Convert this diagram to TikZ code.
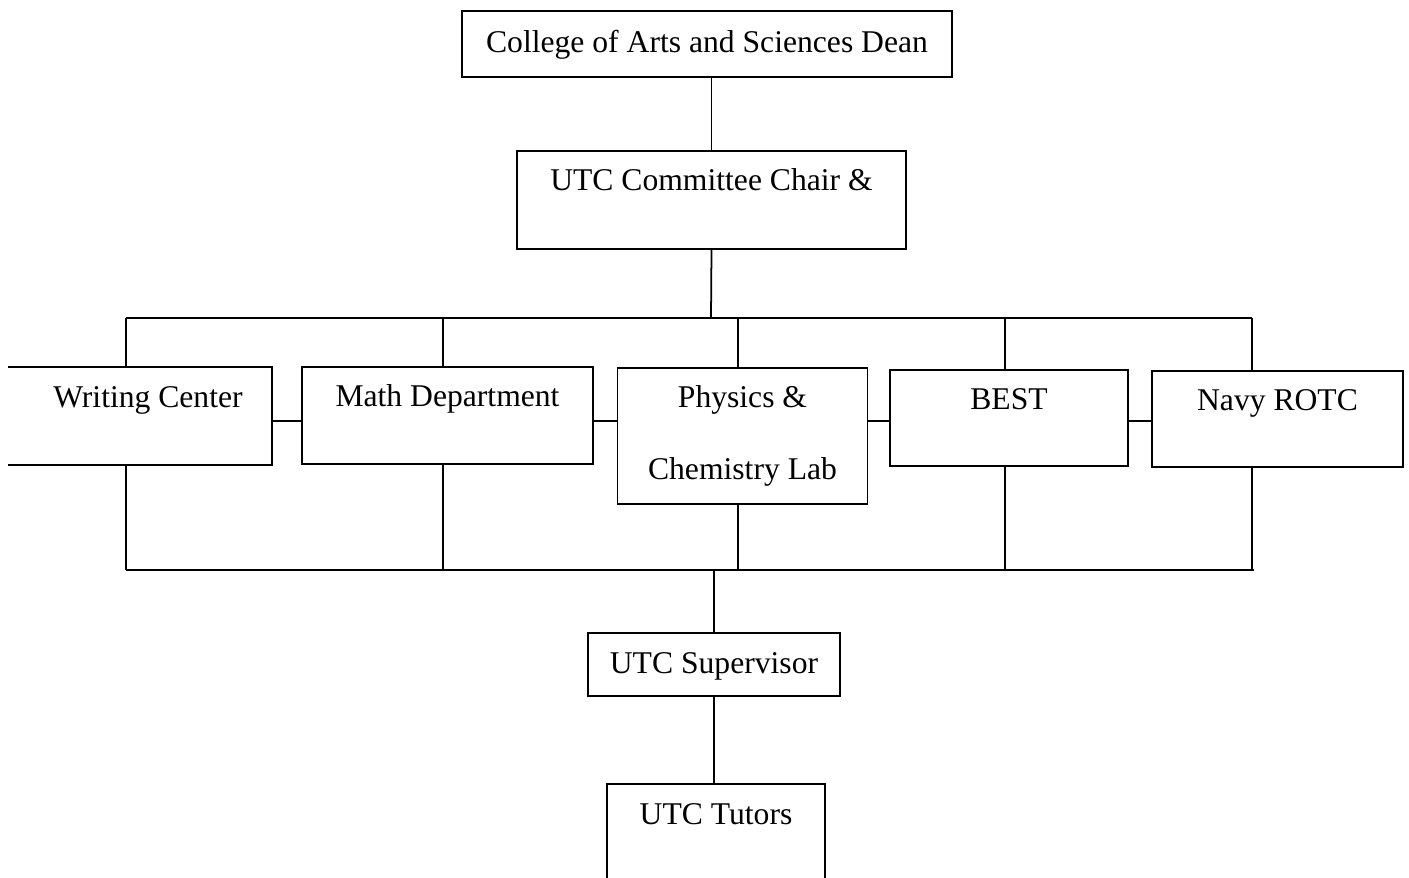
\documentclass[tikz,border=0pt]{standalone}
\usepackage{fontspec}
\setmainfont{Liberation Serif}
\usetikzlibrary{positioning}

\begin{document}
\begin{tikzpicture}[x=0.2mm, y=-0.2mm,
		office/.style={draw, line width=1pt, inner sep=0pt, anchor=north,
			font=\fontsize{18}{41}\selectfont, align=center, text height=8mm},
		openoffice/.style={office, draw=none},
		link/.style={line width=1pt}]
	\useasboundingbox (0,0) rectangle (1409,877);
	\node[office, minimum width=98mm, text height=8.4mm, text depth=4.8mm] (dean) at (707,10) {College of Arts and Sciences Dean};
	\node[office, minimum width=77.8mm, text depth=11.6mm] (chair) at (711.5,150) {UTC Committee Chair \&};
	% the five units
	\node[openoffice, minimum width=49.2mm, text depth=11.2mm] (writing) at (148,367) {Writing Center};
	\node[office, minimum width=58.2mm, text depth=11.4mm] (math) at (447.5,366) {Math Department};
	\node[office, minimum width=50mm, text height=22.4mm, text depth=4.8mm] (phys) at (742.5,367) {Physics \&\\Chemistry Lab};
	\node[office, minimum width=47.6mm, text depth=11.2mm] (best) at (1009,369) {BEST};
	\node[office, minimum width=50.2mm, text depth=11.2mm] (navy) at (1277.5,370) {Navy ROTC};
	\node[office, minimum width=50.4mm, text height=8.2mm, text depth=4.4mm] (super) at (714,632) {UTC Supervisor};
	\node[openoffice, minimum width=43.2mm, text depth=12mm] (tutors) at (716,784) {UTC Tutors};
	\draw[link] ([xshift=-3.2mm]writing.north west) -- (writing.north east) -- (writing.south east) -- ([xshift=-3.2mm]writing.south west);
	\draw[link] (tutors.south west) -- (tutors.north west) -- (tutors.north east) -- (tutors.south east);
	% connectors
	\draw[link] (chair.north |- dean.south) -- (chair.north);
	\coordinate (bustop) at (711,318);
	\coordinate (busbottom) at (714,570);
	\draw[link] (chair.south) -- (bustop);
	\draw[link] (126,318) -- (1252,318);
	\draw[link] (126,570) -- (1254,570);
	\foreach \n/\x in {writing/126, math/443, phys/738, best/1005, navy/1252} {
		\draw[link] (\x,318) -- (\x,318 |- \n.north);
		\draw[link] (\x,570) -- (\x,570 |- \n.south);
	}
	\foreach \a/\b in {writing/math, math/phys, phys/best, best/navy}
		\draw[link] (\a.east |- 0,421) -- (\b.west |- 0,421);
	\draw[link] (busbottom) -- (busbottom |- super.north);
	\draw[link] (super.south) -- (super.south |- tutors.north);
\end{tikzpicture}
\end{document}
